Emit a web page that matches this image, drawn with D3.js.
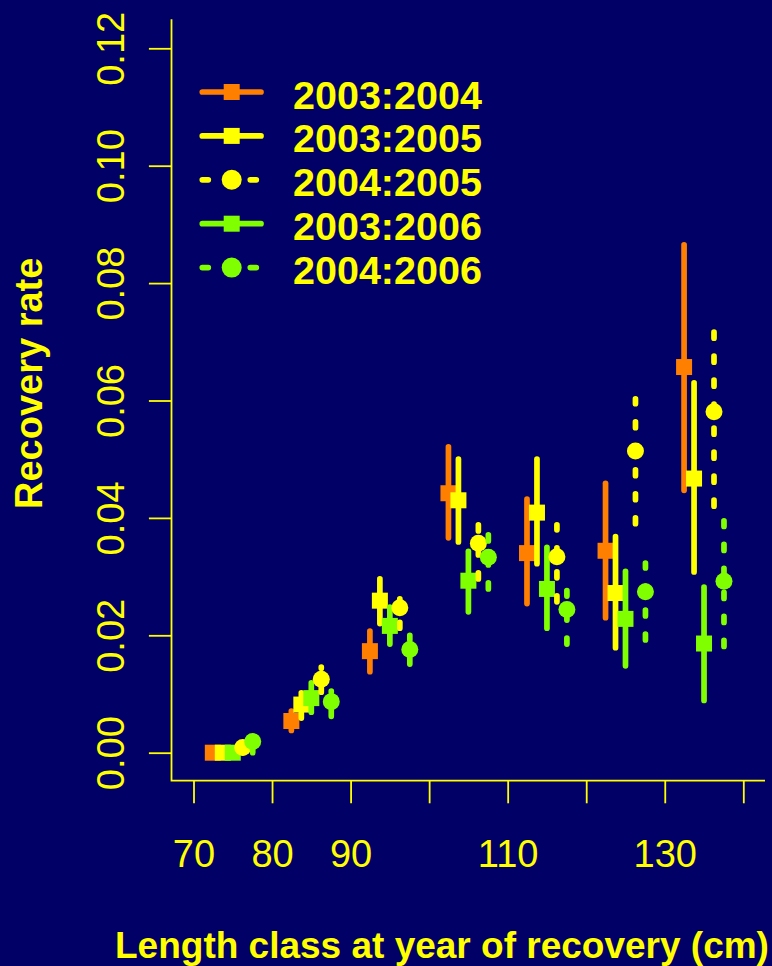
<!DOCTYPE html>
<html><head><meta charset="utf-8">
<script src="https://cdn.jsdelivr.net/npm/d3@7"></script>
<style>html,body{margin:0;padding:0;background:#000066;} svg{display:block}</style>
</head><body><svg id="chart" width="772" height="966"></svg>
<script>
// ---------- data ----------
const lengthClasses = [75, 85, 95, 105, 115, 125, 135];
const seriesNames = ["2003:2004", "2003:2005", "2004:2005", "2003:2006", "2004:2006"];

const est_2003_2004 = [0, 0.0054, 0.0173, 0.0442, 0.0340, 0.0344, 0.0657];
const lo_2003_2004  = [0, 0.0038, 0.0138, 0.0366, 0.0254, 0.0230, 0.0447];
const hi_2003_2004  = [0, 0.0071, 0.0207, 0.0521, 0.0432, 0.0459, 0.0865];

const est_2003_2005 = [0, 0.0082, 0.0259, 0.0430, 0.0409, 0.0272, 0.0467];
const lo_2003_2005  = [0, 0.0059, 0.0220, 0.0359, 0.0322, 0.0179, 0.0308];
const hi_2003_2005  = [0, 0.0102, 0.0296, 0.0500, 0.0500, 0.0368, 0.0630];

const est_2004_2005 = [0.0009, 0.0125, 0.0247, 0.0357, 0.0334, 0.0514, 0.0581];
const lo_2004_2005  = [0.0000, 0.0103, 0.0212, 0.0296, 0.0257, 0.0390, 0.0420];
const hi_2004_2005  = [0.0016, 0.0146, 0.0262, 0.0388, 0.0388, 0.0603, 0.0717];

const est_2003_2006 = [0, 0.0093, 0.0216, 0.0293, 0.0279, 0.0228, 0.0186];
const lo_2003_2006  = [0, 0.0069, 0.0185, 0.0240, 0.0212, 0.0148, 0.0089];
const hi_2003_2006  = [0, 0.0119, 0.0248, 0.0343, 0.0350, 0.0309, 0.0282];

const est_2004_2006 = [0.0019, 0.0087, 0.0176, 0.0333, 0.0244, 0.0274, 0.0292];
const lo_2004_2006  = [0.0000, 0.0062, 0.0151, 0.0279, 0.0185, 0.0192, 0.0181];
const hi_2004_2006  = [0.0026, 0.0105, 0.0200, 0.0372, 0.0276, 0.0323, 0.0395];

const xTicks = [70, 80, 90, 100, 110, 120, 130, 140];
const xTickLabels = ["70", "80", "90", "", "110", "", "130", ""];
const yTicks = [0, 0.02, 0.04, 0.06, 0.08, 0.10, 0.12];
const yTickLabels = ["0.00", "0.02", "0.04", "0.06", "0.08", "0.10", "0.12"];
const xTitle = "Length class at year of recovery (cm)";
const yTitle = "Recovery rate";

// ---------- styling / layout ----------
const BG = "#000066", YEL = "#FFFF00", ORA = "#FF7F00", GRN = "#7FFF00";
const FONT = "'Liberation Sans', Arial, Helvetica, sans-serif";
const series = [
  {name: seriesNames[0], est: est_2003_2004, lo: lo_2003_2004, hi: hi_2003_2004, color: ORA, shape: "square", dotted: false, off: -2.54},
  {name: seriesNames[1], est: est_2003_2005, lo: lo_2003_2005, hi: hi_2003_2005, color: YEL, shape: "square", dotted: false, off: -1.27},
  {name: seriesNames[2], est: est_2004_2005, lo: lo_2004_2005, hi: hi_2004_2005, color: YEL, shape: "circle", dotted: true, off: 1.27},
  {name: seriesNames[3], est: est_2003_2006, lo: lo_2003_2006, hi: hi_2003_2006, color: GRN, shape: "square", dotted: false, off: 0},
  {name: seriesNames[4], est: est_2004_2006, lo: lo_2004_2006, hi: hi_2004_2006, color: GRN, shape: "circle", dotted: true, off: 2.54}
];
const drawOrder = [0, 1, 3, 2, 4];

const svg = d3.select("#chart");
svg.append("rect").attr("width", 772).attr("height", 966).attr("fill", BG);

const x = d3.scaleLinear().domain([70, 140]).range([193.5, 743.3]);
const y = d3.scaleLinear().domain([0, 0.12]).range([752.7, 48.3]);
const plotLeft = 171.5, plotRight = 765, plotTop = 19.3, plotBottom = 780.7;

// box (bty = "l")
svg.append("path")
  .attr("d", `M${plotLeft},${plotTop}V${plotBottom}H${plotRight}`)
  .attr("fill", "none").attr("stroke", YEL).attr("stroke-width", 1.8);

// x axis
const gx = svg.append("g").attr("transform", `translate(0,${plotBottom})`)
  .call(d3.axisBottom(x).tickValues(xTicks).tickSize(22.6).tickFormat((d, i) => xTickLabels[i]));
gx.select(".domain").remove();
gx.selectAll("line").attr("stroke", YEL).attr("stroke-width", 1.8);
gx.selectAll("text").attr("y", 86.6).attr("dy", null)
  .attr("fill", YEL).attr("font-family", FONT).attr("font-size", 38);

// y axis
const gy = svg.append("g").attr("transform", `translate(${plotLeft},0)`)
  .call(d3.axisLeft(y).tickValues(yTicks).tickSize(22.6).tickFormat((d, i) => yTickLabels[i]));
gy.select(".domain").remove();
gy.selectAll("line").attr("stroke", YEL).attr("stroke-width", 1.8);
gy.selectAll("text").attr("x", 0).attr("dy", null)
  .attr("transform", "translate(-48,0) rotate(-90)")
  .attr("text-anchor", "middle")
  .attr("fill", YEL).attr("font-family", FONT).attr("font-size", 38);

// series
const marks = svg.append("g");
drawOrder.forEach(si => {
  const s = series[si];
  const g = marks.append("g");
  lengthClasses.forEach((lc, i) => {
    const cx = x(lc + s.off);
    g.append("line")
      .attr("x1", cx).attr("x2", cx)
      .attr("y1", y(s.lo[i])).attr("y2", y(s.hi[i]))
      .attr("stroke", s.color).attr("stroke-width", 5.7)
      .attr("stroke-linecap", "round")
      .attr("stroke-dasharray", s.dotted ? "6 18" : null);
    if (s.shape === "square") {
      g.append("rect").attr("x", cx - 8).attr("y", y(s.est[i]) - 8)
        .attr("width", 16).attr("height", 16).attr("fill", s.color);
    } else {
      g.append("circle").attr("cx", cx).attr("cy", y(s.est[i]))
        .attr("r", 8.5).attr("fill", s.color);
    }
  });
});

// legend
const leg = svg.append("g");
series.forEach((s, k) => {
  const ly = 92 + 43.9 * k;
  leg.append("line").attr("x1", 202.3).attr("x2", 261).attr("y1", ly).attr("y2", ly)
    .attr("stroke", s.color).attr("stroke-width", 5.7).attr("stroke-linecap", "round")
    .attr("stroke-dasharray", s.dotted ? "6 18" : null);
  if (s.shape === "square") {
    leg.append("rect").attr("x", 231.7 - 8).attr("y", ly - 8).attr("width", 16).attr("height", 16).attr("fill", s.color);
  } else {
    leg.append("circle").attr("cx", 231.7).attr("cy", ly).attr("r", 10).attr("fill", s.color);
  }
  leg.append("text").attr("x", 293).attr("y", ly + 16.5)
    .attr("fill", YEL).attr("font-family", FONT).attr("font-weight", "bold").attr("font-size", 39.5)
    .text(s.name);
});

// titles
svg.append("text").attr("x", 115).attr("y", 957.7)
  .attr("fill", YEL).attr("font-family", FONT).attr("font-weight", "bold").attr("font-size", 37)
  .text(xTitle);
svg.append("text").attr("transform", "translate(42,383.3) rotate(-90)")
  .attr("text-anchor", "middle")
  .attr("fill", YEL).attr("font-family", FONT).attr("font-weight", "bold").attr("font-size", 38)
  .text(yTitle);
</script></body></html>
